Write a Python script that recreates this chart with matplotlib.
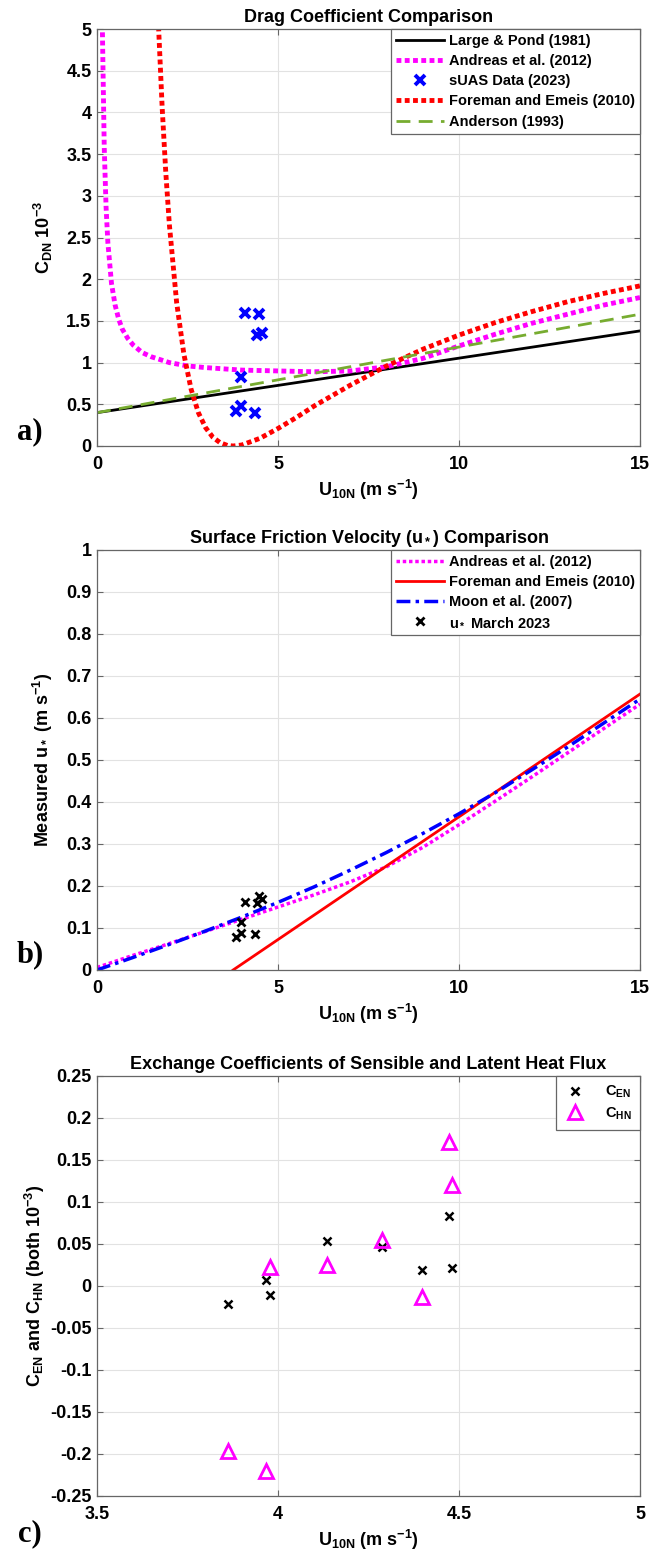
import matplotlib
matplotlib.use("Agg")
import matplotlib.pyplot as plt
from matplotlib.ticker import FuncFormatter

plt.rcParams['font.family'] = ['Liberation Sans', 'DejaVu Sans']
plt.rcParams['font.weight'] = 'bold'
plt.rcParams['axes.unicode_minus'] = False
plt.rcParams['mathtext.fontset'] = 'custom'
plt.rcParams['mathtext.rm'] = 'Liberation Sans:bold'
plt.rcParams['mathtext.it'] = 'Liberation Sans:bold'
plt.rcParams['mathtext.bf'] = 'Liberation Sans:bold'
plt.rcParams['mathtext.default'] = 'bf'

# ---- panel a: drag coefficient (values x 10^-3) ----
lp_u = [0, 15]
lp_cd = [0.40, 1.38]

anderson_u = [0, 15]
anderson_cd = [0.40, 1.58]

andreas_u = [0.15, 0.2, 0.25, 0.3, 0.4, 0.5, 0.6, 0.7, 0.85, 1.0, 1.25, 1.5, 2, 2.5, 3,
             4, 5, 6, 7, 8, 9, 10, 11, 12, 13, 14, 15]
andreas_cd = [4.96, 3.58, 2.87, 2.44, 1.95, 1.69, 1.52, 1.40, 1.29, 1.21, 1.12, 1.07, 1.00,
              0.96, 0.94, 0.91, 0.90, 0.89, 0.90, 0.95, 1.05, 1.20, 1.34, 1.47, 1.58, 1.69, 1.78]

foreman_u = [1.7, 1.8, 1.9, 2.0, 2.2, 2.4, 2.6, 2.8, 3.0, 3.2, 3.4, 3.6, 3.76, 4.0, 4.5,
             5, 5.5, 6, 7, 8, 9, 10, 11, 12, 13, 14, 15]
foreman_cd = [5.03, 4.06, 3.28, 2.65, 1.72, 1.10, 0.68, 0.40, 0.22, 0.105, 0.04, 0.007, 0.0,
              0.012, 0.092, 0.21, 0.34, 0.48, 0.73, 0.96, 1.16, 1.33, 1.48, 1.61, 1.73, 1.83, 1.92]

suas_u = [3.85, 3.97, 3.98, 4.09, 4.36, 4.41, 4.47, 4.57]
suas_cd = [0.42, 0.48, 0.83, 1.60, 0.39, 1.33, 1.58, 1.35]

# ---- panel b: friction velocity ----
andreas_ub = [0, 1, 2, 3, 4, 5, 6, 7, 8, 9, 10, 11, 12, 13, 14, 15]
andreas_us = [0.006, 0.035, 0.063, 0.092, 0.121, 0.150, 0.179, 0.210, 0.246, 0.292,
              0.346, 0.402, 0.459, 0.517, 0.575, 0.633]

foreman_ub = [3.76, 15]
foreman_us = [0.0, 0.657]

moon_ub = [0, 1, 2, 3, 4, 5, 6, 7, 8, 9, 10, 11, 12, 13, 14, 15]
moon_us = [0.000, 0.030, 0.061, 0.093, 0.126, 0.161, 0.198, 0.238, 0.280, 0.325,
           0.372, 0.422, 0.476, 0.531, 0.588, 0.645]

meas_ustar = [0.079, 0.087, 0.115, 0.163, 0.086, 0.160, 0.177, 0.168]

# ---- panel c: exchange coefficients ----
heat_u = [3.862, 3.968, 3.977, 4.134, 4.287, 4.399, 4.472, 4.482]
cen = [-0.021, 0.007, -0.011, 0.054, 0.047, 0.019, 0.083, 0.021]
chn = [-0.197, -0.220, 0.023, 0.025, 0.055, -0.013, 0.172, 0.120]

fig = plt.figure(figsize=(6.52, 15.58), dpi=100)
W, H = 652.0, 1558.0
FS = 13


def make_ax(top, bottom):
    return fig.add_axes([97 / W, 1 - bottom / H, 543 / W, (bottom - top) / H])


def style(ax):
    ax.grid(True, color='#e2e2e2', lw=0.8)
    ax.set_axisbelow(True)
    for s in ax.spines.values():
        s.set_color('#666666')
        s.set_linewidth(0.9)
    ax.tick_params(direction='in', length=4, width=0.8, color='#666666',
                   labelsize=FS, top=True, right=True)
    ax.tick_params(axis='x', pad=7)
    ax.tick_params(axis='y', pad=4)
    ax.xaxis.set_major_formatter(FuncFormatter(lambda v, p: '%g' % v))
    ax.yaxis.set_major_formatter(FuncFormatter(lambda v, p: '%g' % v))
    for lab in ax.get_xticklabels() + ax.get_yticklabels():
        lab.set_fontweight('bold')


def legend(ax, **kw):
    leg = ax.legend(loc='upper right', borderaxespad=0, fancybox=False, framealpha=1,
                    edgecolor='#666666', prop={'size': 10.5, 'weight': 'bold'}, **kw)
    leg.get_frame().set_linewidth(0.9)
    return leg


dots = (0, (1, 0.7))

# panel a
ax1 = make_ax(29, 446)
ax1.plot(lp_u, lp_cd, color='black', lw=2, label='Large & Pond (1981)')
ax1.plot(andreas_u, andreas_cd, color='#ff00ff', lw=3.5, ls=dots, label='Andreas et al. (2012)')
ax1.plot(suas_u, suas_cd, 'x', color='#0000ff', ms=6.5, mew=2.8, label='sUAS Data (2023)')
ax1.plot(foreman_u, foreman_cd, color='#ff0000', lw=3.5, ls=dots, label='Foreman and Emeis (2010)')
ax1.plot(anderson_u, anderson_cd, color='#77ac30', lw=2, ls=(0, (5, 3)), label='Anderson (1993)')
ax1.set_xlim(0, 15)
ax1.set_ylim(0, 5)
ax1.set_xticks([0, 5, 10, 15])
ax1.set_yticks([0, 0.5, 1, 1.5, 2, 2.5, 3, 3.5, 4, 4.5, 5])
style(ax1)
ax1.set_title('Drag Coefficient Comparison', fontsize=FS, fontweight='bold', pad=5)
ax1.set_xlabel('U$_{10N}$ (m s$^{-1}$)', fontsize=FS, fontweight='bold')
ax1.set_ylabel('C$_{DN}$ 10$^{-3}$', fontsize=FS, fontweight='bold', labelpad=8)
legend(ax1, handlelength=3.3, handletextpad=0.35, labelspacing=0.42, borderpad=0.35)

# panel b
ax2 = make_ax(550, 970)
ax2.plot(andreas_ub, andreas_us, color='#ff00ff', lw=2.5, ls=(0, (1, 0.8)), label='Andreas et al. (2012)')
ax2.plot(foreman_ub, foreman_us, color='#ff0000', lw=2, label='Foreman and Emeis (2010)')
ax2.plot(moon_ub, moon_us, color='#0000ff', lw=2.5, ls=(0, (4, 1.5, 1, 1.5)), label='Moon et al. (2007)')
ax2.plot(suas_u, meas_ustar, 'x', color='black', ms=5.5, mew=2, label='u$_*$ March 2023')
ax2.set_xlim(0, 15)
ax2.set_ylim(0, 1)
ax2.set_xticks([0, 5, 10, 15])
ax2.set_yticks([0, 0.1, 0.2, 0.3, 0.4, 0.5, 0.6, 0.7, 0.8, 0.9, 1])
style(ax2)
ax2.set_title('Surface Friction Velocity (u$_*$) Comparison', fontsize=FS, fontweight='bold', pad=5)
ax2.set_xlabel('U$_{10N}$ (m s$^{-1}$)', fontsize=FS, fontweight='bold')
ax2.set_ylabel('Measured u$_*$ (m s$^{-1}$)', fontsize=FS, fontweight='bold', labelpad=8)
legend(ax2, handlelength=3.3, handletextpad=0.35, labelspacing=0.42, borderpad=0.35)

# panel c
ax3 = make_ax(1076, 1496)
ax3.plot(heat_u, cen, 'x', color='black', ms=5.5, mew=1.8, label='C$_{EN}$')
ax3.plot(heat_u, chn, '^', color='#ff00ff', mfc='none', ms=10, mew=2, label='C$_{HN}$')
ax3.set_xlim(3.5, 5)
ax3.set_ylim(-0.25, 0.25)
ax3.set_xticks([3.5, 4, 4.5, 5])
ax3.set_yticks([-0.25, -0.2, -0.15, -0.1, -0.05, 0, 0.05, 0.1, 0.15, 0.2, 0.25])
style(ax3)
ax3.set_title('Exchange Coefficients of Sensible and Latent Heat Flux', fontsize=FS,
              fontweight='bold', pad=5)
ax3.set_xlabel('U$_{10N}$ (m s$^{-1}$)', fontsize=FS, fontweight='bold')
ax3.set_ylabel('C$_{EN}$ and C$_{HN}$ (both 10$^{-3}$)', fontsize=FS, fontweight='bold', labelpad=2)
legend(ax3, handlelength=1.5, handletextpad=1.3, labelspacing=0.35, borderpad=0.55)

# panel letters
for lab, ypx in [('a)', 432), ('b)', 955), ('c)', 1534)]:
    fig.text(30 / W, 1 - ypx / H, lab, fontsize=22, fontweight='bold',
             family=['Liberation Serif', 'DejaVu Serif'], ha='center', va='center')

fig.savefig('out.png', dpi=100)
